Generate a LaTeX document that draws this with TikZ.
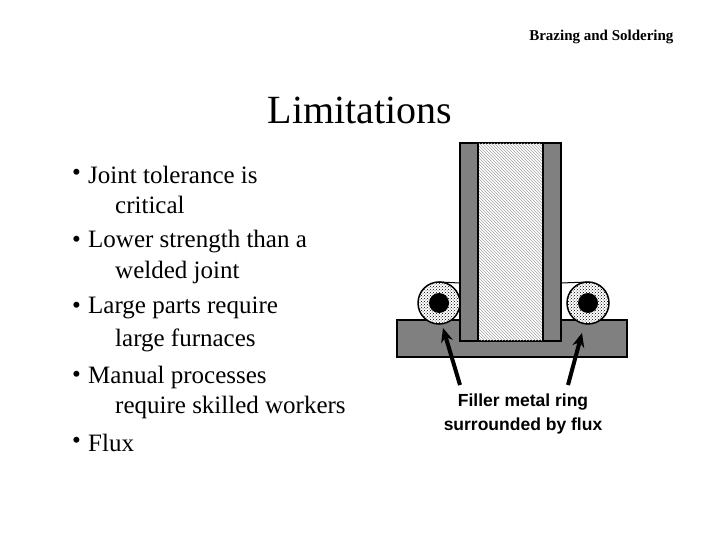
\documentclass[tikz,border=0pt]{standalone}
\usepackage{fontspec}
\setmainfont{Liberation Serif}
\newfontfamily\arialf{Liberation Sans}
\usetikzlibrary{patterns,arrows.meta}
\begin{document}
\begin{tikzpicture}[x=1pt,y=-1pt,
  bl/.style={anchor=west,font=\fontsize{25}{25}\selectfont,inner sep=0},
  gray part/.style={draw=black,line width=1.5pt,fill={rgb,255:red,128;green,128;blue,128}},
  arr/.style={line width=4pt,-{Stealth[length=14pt,width=12pt]}}]
\useasboundingbox (0,0) rectangle (720,540);
\node[anchor=east,font=\bfseries\fontsize{15}{15}\selectfont] (hdr) at (677,37) {Brazing and Soldering};
\node[font=\fontsize{40}{40}\selectfont] (title) at (360,110) {Limitations};
\foreach \y/\t/\b in {175/Joint tolerance is/1,205/critical/0,242/Lower strength than a/1,272/welded joint/0,308/Large parts require/1,340/large furnaces/0,377/Manual processes/1,407/require skilled workers/0,443/Flux/1}{
  \ifnum\b=1 \node[bl] at (72,\y) {•};\node[bl] at (88,\y) {\t};
  \else \node[bl] at (115,\y) {\t};\fi}
% base
\draw[gray part] (397,320) rectangle (627,357);
% tube
\draw[gray part] (460,143) rectangle (561,341);
\fill[white] (478,144) rectangle (543,340);
\path[pattern=north west lines,pattern color=gray!70] (478,144) rectangle (543,340);
\draw[line width=1.5pt] (478,143) -- (478,341) (543,143) -- (543,341);
% rings
\foreach \cx/\n in {439/l,588/r}{
  \node[circle,draw,line width=1.5pt,minimum size=42pt,fill=white] (ring\n) at (\cx,303) {};
  \path[pattern=crosshatch dots] (\cx,303) circle (20pt);
  \node[circle,fill=black,minimum size=20pt,inner sep=0] at (\cx,303) {};}
\draw[line width=1pt] (439,282) -- (460,283);
\draw[line width=1pt] (561,283) -- (588,282);
\coordinate (ta) at (460,385); \coordinate (ha) at (443,328);
\coordinate (tb) at (568,385); \coordinate (hb) at (582,333);
\draw[arr] (ta) -- (ha);
\draw[arr] (tb) -- (hb);
\node[font=\arialf\bfseries\fontsize{17.5}{24}\selectfont,align=center] (lbl) at (523,414) {Filler metal ring\\surrounded by flux};
\end{tikzpicture}
\end{document}
